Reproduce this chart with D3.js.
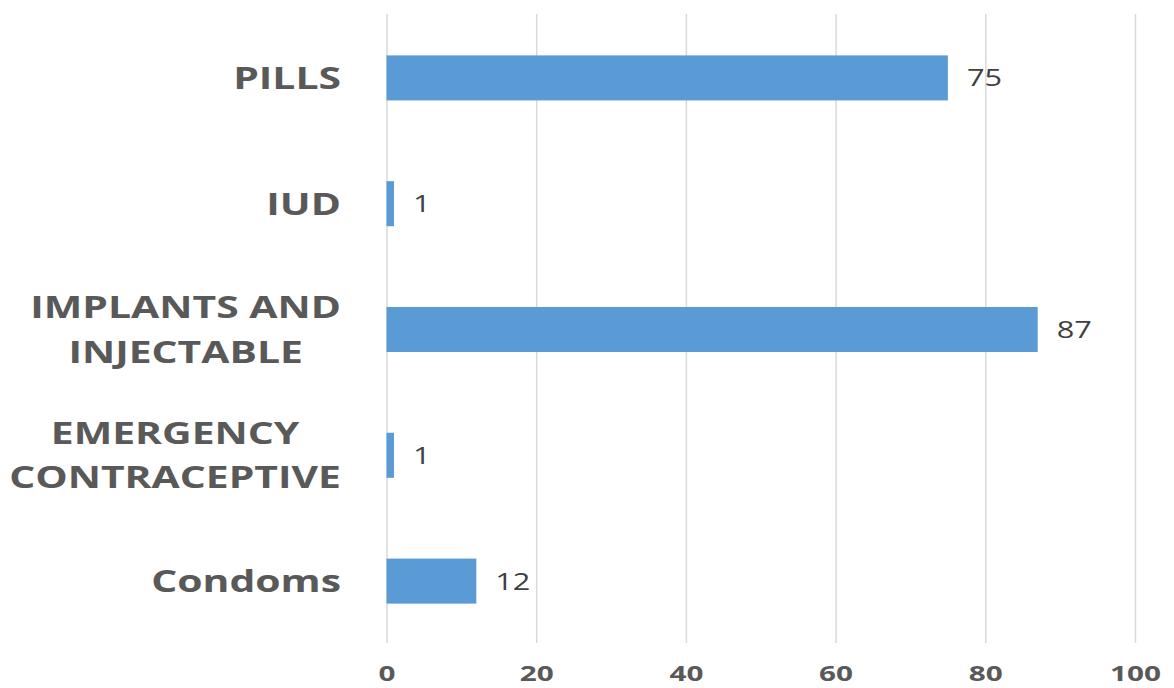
<!DOCTYPE html>
<html>
<head>
<meta charset="utf-8">
<script src="https://cdn.jsdelivr.net/npm/d3@7"></script>
<style>
  html, body { margin: 0; padding: 0; background: #ffffff; }
  svg { display: block; }
</style>
</head>
<body>
<svg id="chart" width="1174" height="688"></svg>
<script>
// Contraceptive methods, listed top to bottom
const categories = ["PILLS", "IUD", "IMPLANTS AND INJECTABLE", "EMERGENCY CONTRACEPTIVE", "Condoms"];
const values = [75, 1, 87, 1, 12];
const tickValues = [0, 20, 40, 60, 80, 100];

const W = 1174, H = 688;
const plot = { left: 386.5, right: 1135, top: 14, bottom: 643 };

// Text is drawn slightly wide, so glyphs are stretched horizontally
const catFont = { size: 30.5, stretch: 1.34, color: "#595959" };
const tickFont = { size: 20.5, stretch: 1.45, color: "#595959" };
const valFont = { size: 24, stretch: 1.28, color: "#404040" };

const svg = d3.select("#chart");

const x = d3.scaleLinear().domain([0, 100]).range([plot.left, plot.right]);
const y = d3.scaleBand()
  .domain(categories)
  .range([plot.top + 1, plot.bottom + 1])
  .paddingInner(0.642)
  .paddingOuter(0.321);

// Vertical gridlines
const grid = svg.append("g")
  .attr("transform", `translate(0,${plot.bottom})`)
  .call(d3.axisBottom(x).tickValues(tickValues).tickSize(-(plot.bottom - plot.top)).tickFormat(""));
grid.select(".domain").remove();
grid.selectAll(".tick line").attr("stroke", "#d9d9d9").attr("stroke-width", 1.5);

// Tick labels under the plot
const ticks = svg.append("g")
  .attr("transform", `translate(0,${plot.bottom + 38})`)
  .call(d3.axisBottom(x).tickValues(tickValues).tickSize(0).tickPadding(0).tickFormat(d3.format("d")));
ticks.select(".domain").remove();
ticks.selectAll(".tick text")
  .attr("y", 0)
  .attr("dy", 0)
  .attr("transform", `scale(${tickFont.stretch},1)`)
  .attr("font-family", "'Open Sans', sans-serif")
  .attr("font-weight", "bold")
  .attr("font-size", tickFont.size)
  .attr("fill", tickFont.color);

// Bars
svg.append("g").selectAll("rect")
  .data(categories)
  .join("rect")
  .attr("x", x(0))
  .attr("y", d => y(d))
  .attr("width", (d, i) => x(values[i]) - x(0))
  .attr("height", y.bandwidth())
  .attr("fill", "#5b9bd5");

// Value labels
svg.append("g").selectAll("text")
  .data(categories)
  .join("text")
  .attr("transform", (d, i) => `translate(${x(values[i]) + 19},${y(d) + y.bandwidth() / 2 + 8.5}) scale(${valFont.stretch},1)`)
  .attr("font-family", "'Open Sans', sans-serif")
  .attr("font-size", valFont.size)
  .attr("fill", valFont.color)
  .text((d, i) => values[i]);

// Category labels, wrapped into lines, block right-aligned and lines centred
const labelRight = 341;
const maxLabelWidth = 340;
const lineGap = 44.5;
const capHalf = catFont.size * 0.714 / 2;

const measure = svg.append("text")
  .attr("font-family", "'Open Sans', sans-serif")
  .attr("font-weight", "bold")
  .attr("font-size", catFont.size)
  .attr("visibility", "hidden");
const widthOf = s => { measure.text(s); return measure.node().getComputedTextLength() * catFont.stretch; };

function wrap(label) {
  const words = label.split(" ");
  const lines = [];
  let cur = "";
  words.forEach(w => {
    const trial = cur ? cur + " " + w : w;
    if (cur && widthOf(trial) > maxLabelWidth) { lines.push(cur); cur = w; }
    else cur = trial;
  });
  if (cur) lines.push(cur);
  return lines;
}

const labels = svg.append("g");
categories.forEach(cat => {
  const lines = wrap(cat);
  const blockW = d3.max(lines, widthOf);
  const cx = labelRight - blockW / 2;
  const cy = y(cat) + y.bandwidth() / 2;
  lines.forEach((ln, k) => {
    const base = cy + (k - (lines.length - 1) / 2) * lineGap + capHalf;
    labels.append("text")
      .attr("transform", `translate(${cx},${base}) scale(${catFont.stretch},1)`)
      .attr("text-anchor", "middle")
      .attr("font-family", "'Open Sans', sans-serif")
      .attr("font-weight", "bold")
      .attr("font-size", catFont.size)
      .attr("fill", catFont.color)
      .text(ln);
  });
});
measure.remove();
</script>
</body>
</html>
